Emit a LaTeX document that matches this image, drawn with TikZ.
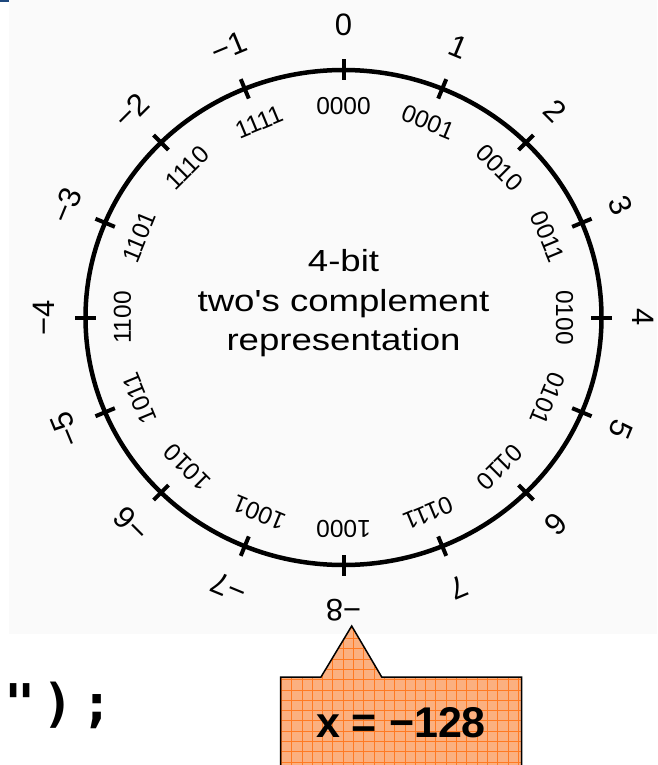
\documentclass[tikz,border=0pt]{standalone}
\usepackage{graphicx}
\usepackage{fontspec}
\setmainfont{Liberation Sans}
\newfontfamily\lsans{Liberation Sans}
\newfontfamily\monob{DejaVu Sans Mono}
\definecolor{paper}{RGB}{250,250,250}
\definecolor{cornerblue}{RGB}{31,73,125}
\definecolor{calloutfill}{RGB}{251,176,128}
\definecolor{calloutgrid}{RGB}{255,122,35}
\begin{document}
\begin{tikzpicture}[x=1pt,y=-1pt,
  ring/.style={line width=4.5pt},
  tickmark/.style={line width=4pt},
  outerlbl/.style={inner sep=0pt,font=\fontsize{31}{36}\selectfont},
  binlbl/.style={inner sep=0pt,font=\fontsize{24.5}{29}\selectfont},
  centertxt/.style={inner sep=0pt,anchor=base,font=\fontsize{30.5}{36}\selectfont\lsans},
  gridline/.style={calloutgrid,line width=0.9pt},
  calloutline/.style={draw=black,line width=1.5pt,line join=miter},
  callouttxt/.style={inner sep=0pt,anchor=base,font=\fontsize{43}{50}\selectfont\bfseries},
  codetxt/.style={inner sep=0pt,anchor=base west,font=\fontsize{52}{60}\selectfont\monob\bfseries},
]
\useasboundingbox (0,0) rectangle (657,765);
\fill[white] (0,0) rectangle (657,765);
\fill[paper] (9,0) rectangle (657,634);
\fill[cornerblue] (0,0) rectangle (9,2.5);

% ring
\draw[ring] (343.5,317.5) ellipse [x radius=258pt, y radius=247.5pt];

\foreach \k/\v/\b in {0/0/0000,1/1/0001,2/2/0010,3/3/0011,4/4/0100,5/5/0101,6/6/0110,7/7/0111,
                      8/−8/1000,9/−7/1001,10/−6/1010,11/−5/1011,12/−4/1100,13/−3/1101,14/−2/1110,15/−1/1111}{
  \pgfmathsetmacro\t{\k*22.5}
  \draw[tickmark] ({343.5+268.5*sin(\t)},{317.5-258*cos(\t)}) -- ({343.5+247.5*sin(\t)},{317.5-237*cos(\t)});
  \node[outerlbl,rotate=-\t] (v\k) at ({343.5+300*sin(\t)},{317.5-292.5*cos(\t)}) {\v};
  \node[binlbl,rotate=-\t] (b\k) at ({343.5+221*sin(\t)},{317.5-211.5*cos(\t)}) {\b};
}

\node[centertxt] (t1) at (343.5,271.7) {\scalebox{1.2}[1]{4-bit}};
\node[centertxt] (t2) at (343.5,311.7) {\scalebox{1.2}[1]{two's complement}};
\node[centertxt] (t3) at (343.5,350.7) {\scalebox{1.2}[1]{representation}};

% callout
\begin{scope}
\clip (280.7,770) -- (280.7,677) -- (321,677) -- (351.7,626) -- (381.7,677) -- (521.7,677) -- (521.7,770) -- cycle;
\fill[calloutfill] (270,620) rectangle (530,770);
\foreach \i in {0,...,24} \draw[gridline] ({281.4+10.3*\i},620) -- ++(0,150);
\foreach \j in {0,...,14} \draw[gridline] (270,{628.2+10.3*\j}) -- ++(260,0);
\end{scope}
\draw[calloutline] (280.7,767) -- (280.7,677) -- (321,677) -- (351.7,626) -- (381.7,677) -- (521.7,677) -- (521.7,767);
\node[callouttxt] (xval) at (401,737) {x = −128};

\node[codetxt] (code) at (0,721.5) {\makebox[39pt][c]{"}\makebox[39pt][c]{)}\makebox[39pt][c]{;}};
\end{tikzpicture}
\end{document}
